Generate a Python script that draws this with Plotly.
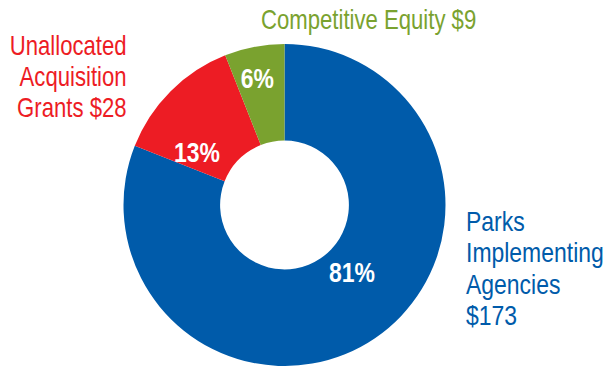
import plotly.graph_objects as go

# Budget shares (percent of total) and dollar amounts (millions)
categories = ["Parks Implementing Agencies", "Unallocated Acquisition Grants", "Competitive Equity"]
shares = [81, 13, 6]
dollars = [173, 28, 9]
colors = ["#005BAA", "#ED1C24", "#7AA22F"]

# Outer label lines per category (name broken into lines, then the amount)
label_lines = [
    ["Parks", "Implementing", "Agencies", f"${dollars[0]}"],
    ["Unallocated", "Acquisition", f"Grants ${dollars[1]}"],
    [f"Competitive Equity ${dollars[2]}"],
]

W, H = 605, 366
FONT = "Liberation Sans, Arial, sans-serif"

# Donut geometry in pixels
cx, cy, R = 284.5, 205, 161


def px(x):
    return x / W


def py(y):
    return 1 - y / H


fig = go.Figure(
    go.Pie(
        labels=categories,
        values=shares,
        marker=dict(colors=colors, line=dict(width=0)),
        hole=0.40,
        sort=False,
        direction="clockwise",
        rotation=0,
        textinfo="none",
        hoverinfo="label+percent",
        showlegend=False,
        domain=dict(x=[px(cx - R), px(cx + R)], y=[py(cy + R), py(cy - R)]),
    )
)

annotations = []

# Percentages inside the ring
pct_pos = [(352.5, 272.5), (197, 152), (257, 78)]
for s, (x, y) in zip(shares, pct_pos):
    annotations.append(dict(
        x=px(x), y=py(y), xref="paper", yref="paper",
        text=f"<b>{s}%</b>", showarrow=False,
        xanchor="center", yanchor="middle", align="center",
        font=dict(family=FONT, size=28, color="white"),
    ))

# Outer category labels, one annotation per line
label_cfg = [
    dict(x=464, y0=221, pitch=31.5, anchor="left", size=28),
    dict(x=129, y0=46, pitch=31, anchor="right", size=27),
    dict(x=258.6, y0=20, pitch=31, anchor="left", size=27),
]
for lines, cfg, col in zip(label_lines, label_cfg, colors):
    for i, line in enumerate(lines):
        annotations.append(dict(
            x=px(cfg["x"]), y=py(cfg["y0"] + i * cfg["pitch"]),
            xref="paper", yref="paper",
            text=line, showarrow=False,
            xanchor=cfg["anchor"], yanchor="middle", align=cfg["anchor"],
            font=dict(family=FONT, size=cfg["size"], color=col),
        ))

fig.update_layout(
    width=W, height=H,
    margin=dict(l=0, r=0, t=0, b=0),
    paper_bgcolor="white", plot_bgcolor="white",
    annotations=annotations,
)

# Narrow the label glyphs horizontally (condensed type), keeping each
# annotation's anchored edge in place.
condense_js = """
var gd = document.getElementById('{plot_id}');
function condense() {
  gd.querySelectorAll('text.annotation-text').forEach(function (t) {
    var a = t.getAttribute('text-anchor');
    var o = a === 'start' ? 'left' : (a === 'end' ? 'right' : 'center');
    t.style.transformBox = 'fill-box';
    t.style.transformOrigin = o + ' center';
    t.style.transform = 'scaleX(0.82)';
  });
}
condense();
gd.on('plotly_afterplot', condense);
"""

fig.write_html("out.html", post_script=condense_js)
